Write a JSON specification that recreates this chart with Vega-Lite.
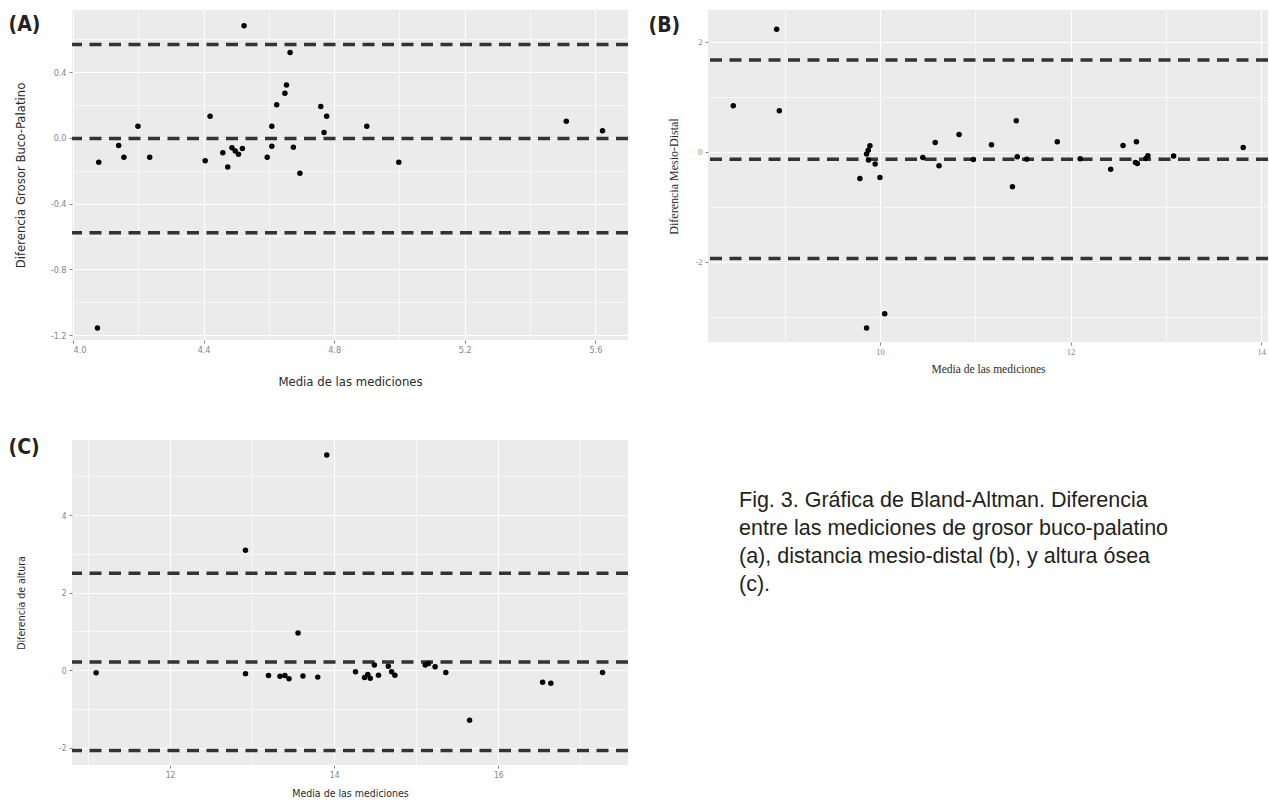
{
  "$schema": "https://vega.github.io/schema/vega-lite/v6.json",
  "background": "white",
  "padding": {"left": 8, "top": 10, "right": 0, "bottom": 0},
  "bounds": "flush",
  "align": "each",
  "columns": 2,
  "spacing": {"row": 98, "column": 80},
  "datasets": {
    "A": [
      {"m": 4.079, "d": -0.149}, {"m": 4.140, "d": -0.047}, {"m": 4.156, "d": -0.118}, {"m": 4.199, "d": 0.071},
      {"m": 4.235, "d": -0.118}, {"m": 4.405, "d": -0.139}, {"m": 4.420, "d": 0.132}, {"m": 4.459, "d": -0.090},
      {"m": 4.474, "d": -0.177}, {"m": 4.487, "d": -0.060}, {"m": 4.497, "d": -0.080}, {"m": 4.507, "d": -0.100},
      {"m": 4.519, "d": -0.065}, {"m": 4.524, "d": 0.682}, {"m": 4.595, "d": -0.118}, {"m": 4.609, "d": -0.051},
      {"m": 4.609, "d": 0.071}, {"m": 4.624, "d": 0.201}, {"m": 4.649, "d": 0.271}, {"m": 4.654, "d": 0.321},
      {"m": 4.665, "d": 0.519}, {"m": 4.675, "d": -0.057}, {"m": 4.695, "d": -0.216}, {"m": 4.759, "d": 0.191},
      {"m": 4.777, "d": 0.132}, {"m": 4.769, "d": 0.032}, {"m": 4.900, "d": 0.071}, {"m": 4.998, "d": -0.149},
      {"m": 5.511, "d": 0.101}, {"m": 5.622, "d": 0.043}, {"m": 4.075, "d": -1.157}
    ],
    "B": [
      {"m": 8.917, "d": 2.225}, {"m": 8.462, "d": 0.836}, {"m": 8.945, "d": 0.745}, {"m": 9.895, "d": 0.109},
      {"m": 9.878, "d": 0.03}, {"m": 9.86, "d": -0.04}, {"m": 9.88, "d": -0.15}, {"m": 9.95, "d": -0.22},
      {"m": 9.79, "d": -0.484}, {"m": 10.0, "d": -0.466}, {"m": 10.45, "d": -0.103}, {"m": 10.58, "d": 0.170},
      {"m": 10.62, "d": -0.254}, {"m": 9.86, "d": -3.20}, {"m": 10.05, "d": -2.94}, {"m": 10.83, "d": 0.315},
      {"m": 10.98, "d": -0.139}, {"m": 11.17, "d": 0.128}, {"m": 11.39, "d": -0.636}, {"m": 11.43, "d": 0.564},
      {"m": 11.44, "d": -0.09}, {"m": 11.54, "d": -0.133}, {"m": 11.86, "d": 0.182}, {"m": 12.10, "d": -0.127},
      {"m": 12.42, "d": -0.315}, {"m": 12.55, "d": 0.116}, {"m": 12.69, "d": 0.182}, {"m": 12.68, "d": -0.193},
      {"m": 12.70, "d": -0.211}, {"m": 12.81, "d": -0.073}, {"m": 12.79, "d": -0.12}, {"m": 13.08, "d": -0.078},
      {"m": 13.81, "d": 0.08}
    ],
    "C": [
      {"m": 12.92, "d": 3.09}, {"m": 13.91, "d": 5.55}, {"m": 11.10, "d": -0.07}, {"m": 12.92, "d": -0.09},
      {"m": 13.56, "d": 0.96}, {"m": 13.20, "d": -0.14}, {"m": 13.34, "d": -0.16}, {"m": 13.40, "d": -0.14},
      {"m": 13.45, "d": -0.22}, {"m": 13.62, "d": -0.15}, {"m": 13.80, "d": -0.18}, {"m": 14.26, "d": -0.04},
      {"m": 14.37, "d": -0.19}, {"m": 14.44, "d": -0.21}, {"m": 14.41, "d": -0.11}, {"m": 14.49, "d": 0.13},
      {"m": 14.54, "d": -0.13}, {"m": 14.66, "d": 0.10}, {"m": 14.70, "d": -0.04}, {"m": 14.74, "d": -0.13},
      {"m": 15.11, "d": 0.13}, {"m": 15.15, "d": 0.17}, {"m": 15.23, "d": 0.09}, {"m": 15.36, "d": -0.06},
      {"m": 15.65, "d": -1.29}, {"m": 16.54, "d": -0.31}, {"m": 16.64, "d": -0.34}, {"m": 17.27, "d": -0.06}
    ],
    "caption": [
      {"i": 1, "c": 0, "t": "Fig. 3. Gráfica de Bland-Altman. Diferencia"},
      {"i": 2, "c": 0, "t": "entre las mediciones de grosor buco-palatino"},
      {"i": 3, "c": 0, "t": "(a), distancia mesio-distal (b), y altura ósea"},
      {"i": 4, "c": 0, "t": "(c)."}
    ]
  },
  "concat": [
    {
      "width": 556, "height": 330,
      "layer": [
        {
          "data": {"name": "A"},
          "mark": {"type": "point", "opacity": 0},
          "encoding": {
            "x": {"field": "m", "type": "quantitative", "scale": {"domain": [3.997, 5.70], "nice": false, "zero": false},
                  "axis": {"values": [4.2, 4.6, 5.0, 5.4], "grid": true, "gridWidth": 0.6, "labels": false, "ticks": false, "domain": false, "orient": "top",
                           "title": "(A)", "titleX": -64, "titleY": 20, "titleAlign": "left", "titleAngle": 0, "titleBaseline": "alphabetic", "titleFontSize": 21, "titleFontWeight": "bold", "titleFont": "DejaVu Sans Condensed, Roboto, sans-serif", "titleColor": "#222"}},
            "y": {"field": "d", "type": "quantitative", "scale": {"domain": [-1.23, 0.778], "nice": false, "zero": false},
                  "axis": {"values": [-1.0, -0.6, -0.2, 0.2, 0.6], "grid": true, "gridWidth": 0.6, "labels": false, "ticks": false, "domain": false, "title": null, "orient": "left"}}
          }
        },
        {
          "data": {"values": [{"l": 0.568}, {"l": -0.004}, {"l": -0.577}]},
          "mark": {"type": "rule", "strokeDash": [12, 7.5], "strokeWidth": 3.5, "color": "#333"},
          "encoding": {"y": {"field": "l", "type": "quantitative", "scale": {"domain": [-1.23, 0.778], "nice": false, "zero": false}, "axis": null}}
        },
        {
          "data": {"name": "A"},
          "mark": {"type": "circle", "size": 30, "color": "black", "opacity": 1},
          "encoding": {
            "x": {"field": "m", "type": "quantitative", "scale": {"domain": [3.997, 5.70], "nice": false, "zero": false},
                  "axis": {"values": [4.0, 4.4, 4.8, 5.2, 5.6], "format": ".1f", "grid": true, "gridWidth": 1.1, "title": "Media de las mediciones", "titleFontSize": 13, "titlePadding": 21, "titleFont": "DejaVu Sans Condensed, Roboto, sans-serif", "labelFont": "DejaVu Sans Condensed, Roboto, sans-serif", "labelFontSize": 9, "orient": "bottom"}},
            "y": {"field": "d", "type": "quantitative", "scale": {"domain": [-1.23, 0.778], "nice": false, "zero": false},
                  "axis": {"values": [-1.2, -0.8, -0.4, 0.0, 0.4], "format": ".1f", "labelExpr": "replace(datum.label, '−', '-')", "grid": true, "gridWidth": 1.1, "title": "Diferencia Grosor Buco-Palatino", "titleFontSize": 13, "titlePadding": 23, "titleFont": "DejaVu Sans Condensed, Roboto, sans-serif", "labelFont": "DejaVu Sans Condensed, Roboto, sans-serif", "labelFontSize": 9, "labelPadding": 3, "orient": "left"}}
          }
        }
      ],
      "resolve": {"axis": {"x": "independent", "y": "independent"}}
    },
    {
      "width": 560, "height": 332,
      "layer": [
        {
          "data": {"name": "B"},
          "mark": {"type": "point", "opacity": 0},
          "encoding": {
            "x": {"field": "m", "type": "quantitative", "scale": {"domain": [8.197, 14.07], "nice": false, "zero": false},
                  "axis": {"values": [9, 11, 13], "grid": true, "gridWidth": 0.6, "labels": false, "ticks": false, "domain": false, "orient": "top",
                           "title": "(B)", "titleX": -60, "titleY": 21, "titleAlign": "left", "titleAngle": 0, "titleBaseline": "alphabetic", "titleFontSize": 21, "titleFontWeight": "bold", "titleFont": "DejaVu Sans Condensed, Roboto, sans-serif", "titleColor": "#222"}},
            "y": {"field": "d", "type": "quantitative", "scale": {"domain": [-3.455, 2.576], "nice": false, "zero": false},
                  "axis": {"values": [-3, -1, 1], "grid": true, "gridWidth": 0.6, "labels": false, "ticks": false, "domain": false, "title": null, "orient": "left"}}
          }
        },
        {
          "data": {"values": [{"l": 1.667}, {"l": -0.135}, {"l": -1.937}]},
          "mark": {"type": "rule", "strokeDash": [12, 7.5], "strokeWidth": 3.5, "color": "#333"},
          "encoding": {"y": {"field": "l", "type": "quantitative", "scale": {"domain": [-3.455, 2.576], "nice": false, "zero": false}, "axis": null}}
        },
        {
          "data": {"name": "B"},
          "mark": {"type": "circle", "size": 30, "color": "black", "opacity": 1},
          "encoding": {
            "x": {"field": "m", "type": "quantitative", "scale": {"domain": [8.197, 14.07], "nice": false, "zero": false},
                  "axis": {"values": [10, 12, 14], "format": "d", "grid": true, "gridWidth": 1.1, "title": "Media de las mediciones", "titleFontSize": 11.5, "titlePadding": 8, "titleFont": "Liberation Serif", "labelFont": "Liberation Serif", "labelFontSize": 8.5, "orient": "bottom"}},
            "y": {"field": "d", "type": "quantitative", "scale": {"domain": [-3.455, 2.576], "nice": false, "zero": false},
                  "axis": {"values": [-2, 0, 2], "format": "d", "labelExpr": "replace(datum.label, '−', '-')", "grid": true, "gridWidth": 1.1, "title": "Diferencia Mesio-Distal", "titleFontSize": 12, "titlePadding": 14, "titleFont": "Liberation Serif", "labelFont": "Liberation Serif", "labelFontSize": 8.5, "labelPadding": 3, "orient": "left"}}
          }
        }
      ],
      "resolve": {"axis": {"x": "independent", "y": "independent"}}
    },
    {
      "width": 556, "height": 325,
      "layer": [
        {
          "data": {"name": "C"},
          "mark": {"type": "point", "opacity": 0},
          "encoding": {
            "x": {"field": "m", "type": "quantitative", "scale": {"domain": [10.806, 17.58], "nice": false, "zero": false},
                  "axis": {"values": [11, 13, 15, 17], "grid": true, "gridWidth": 0.6, "labels": false, "ticks": false, "domain": false, "orient": "top",
                           "title": "(C)", "titleX": -64, "titleY": 13, "titleAlign": "left", "titleAngle": 0, "titleBaseline": "alphabetic", "titleFontSize": 21, "titleFontWeight": "bold", "titleFont": "DejaVu Sans Condensed, Roboto, sans-serif", "titleColor": "#222"}},
            "y": {"field": "d", "type": "quantitative", "scale": {"domain": [-2.446, 5.934], "nice": false, "zero": false},
                  "axis": {"values": [-1, 1, 3, 5], "grid": true, "gridWidth": 0.6, "labels": false, "ticks": false, "domain": false, "title": null, "orient": "left"}}
          }
        },
        {
          "data": {"values": [{"l": 2.495}, {"l": 0.21}, {"l": -2.075}]},
          "mark": {"type": "rule", "strokeDash": [12, 7.5], "strokeWidth": 3.5, "color": "#333"},
          "encoding": {"y": {"field": "l", "type": "quantitative", "scale": {"domain": [-2.446, 5.934], "nice": false, "zero": false}, "axis": null}}
        },
        {
          "data": {"name": "C"},
          "mark": {"type": "circle", "size": 30, "color": "black", "opacity": 1},
          "encoding": {
            "x": {"field": "m", "type": "quantitative", "scale": {"domain": [10.806, 17.58], "nice": false, "zero": false},
                  "axis": {"values": [12, 14, 16], "format": "d", "grid": true, "gridWidth": 1.1, "title": "Media de las mediciones", "titleFontSize": 10.5, "titlePadding": 10, "titleFont": "DejaVu Sans Condensed, Roboto, sans-serif", "labelFont": "DejaVu Sans Condensed, Roboto, sans-serif", "labelFontSize": 8.5, "orient": "bottom"}},
            "y": {"field": "d", "type": "quantitative", "scale": {"domain": [-2.446, 5.934], "nice": false, "zero": false},
                  "axis": {"values": [-2, 0, 2, 4], "format": "d", "labelExpr": "replace(datum.label, '−', '-')", "grid": true, "gridWidth": 1.1, "title": "Diferencia de altura", "titleFontSize": 10.5, "titlePadding": 32, "titleFont": "DejaVu Sans Condensed, Roboto, sans-serif", "labelFont": "DejaVu Sans Condensed, Roboto, sans-serif", "labelFontSize": 8.5, "labelPadding": 3, "orient": "left"}}
          }
        }
      ],
      "resolve": {"axis": {"x": "independent", "y": "independent"}}
    },
    {
      "width": 560, "height": 325,
      "view": {"fill": null, "stroke": null},
      "data": {"name": "caption"},
      "mark": {"type": "text", "align": "left", "baseline": "alphabetic", "font": "Liberation Sans", "fontSize": 21.5, "color": "#231f20"},
      "encoding": {
        "x": {"field": "c", "type": "quantitative", "scale": {"domain": [-31, 529], "nice": false, "zero": false}, "axis": null},
        "y": {"field": "i", "type": "quantitative", "scale": {"domain": [-1.393, 10.214], "nice": false, "zero": false, "reverse": true}, "axis": null},
        "text": {"field": "t"}
      }
    }
  ],
  "config": {
    "view": {"fill": "#EBEBEB", "stroke": null},
    "axis": {"domain": false, "gridColor": "white", "labelColor": "#858585", "tickColor": "#858585", "tickSize": 3, "tickWidth": 1, "labelPadding": 2, "titleFontWeight": "normal", "titleColor": "#2a2a2a"}
  }
}
